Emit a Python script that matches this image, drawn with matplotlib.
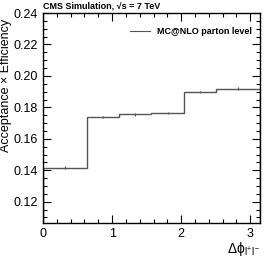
import numpy as np
import matplotlib
matplotlib.use("Agg")
import matplotlib.pyplot as plt
from matplotlib.ticker import MultipleLocator

plt.rcParams['font.family'] = ['Liberation Sans', 'DejaVu Sans']
plt.rcParams['mathtext.fontset'] = 'custom'
plt.rcParams['mathtext.rm'] = 'Liberation Sans'
plt.rcParams['mathtext.it'] = 'Liberation Sans'

# bin edges in delta phi
edges = [0.0, 0.63, 1.10, 1.57, 2.04, 2.51, np.pi]
eff = [0.1417, 0.1738, 0.1755, 0.1764, 0.1898, 0.1919]
err = [0.0008, 0.0008, 0.0008, 0.0008, 0.0008, 0.0008]

fig = plt.figure(figsize=(2.7, 2.57), dpi=100)
ax = fig.add_axes([43/270, 34/257, 217/270, 210/257])

col = "#555555"
ax.stairs(eff, edges, color=col, lw=1.0)
centers = [(edges[i] + edges[i+1]) / 2 for i in range(len(eff))]
ax.errorbar(centers, eff, yerr=err, fmt="none", ecolor=col, elinewidth=0.8)
ax.plot([], [], color=col, lw=0.8, label="MC@NLO parton level")

ax.set_xlim(0, np.pi)
ax.set_ylim(0.1065, 0.24)
ax.xaxis.set_major_locator(MultipleLocator(1))
ax.xaxis.set_minor_locator(MultipleLocator(0.2))
ax.yaxis.set_major_locator(MultipleLocator(0.02))
ax.yaxis.set_minor_locator(MultipleLocator(0.005))
ax.yaxis.set_major_formatter(matplotlib.ticker.FormatStrFormatter("%.2f"))
ax.tick_params(which="both", direction="in", top=True, right=True, labelsize=9, width=0.8)
ax.tick_params(which="major", length=6)
ax.tick_params(which="minor", length=3)
for s in ax.spines.values():
    s.set_linewidth(1.0)

ax.set_ylabel("Acceptance × Efficiency", fontsize=9)
ax.yaxis.set_label_coords(-0.145, 0.655)
ax.text(1.0, -0.08, r"$\Delta\phi_{l^{+}l^{-}}$", transform=ax.transAxes, ha="right", va="top", fontsize=10)
ax.text(0.0, 1.01, "CMS Simulation, √s = 7 TeV", transform=ax.transAxes, ha="left", va="bottom", fontsize=6.5, fontweight="bold")

leg = ax.legend(loc="upper right", frameon=False, fontsize=6.5, handlelength=2.2, bbox_to_anchor=(1.0, 0.97))
for t in leg.get_texts():
    t.set_fontweight("bold")

fig.savefig("out.png", dpi=100)
